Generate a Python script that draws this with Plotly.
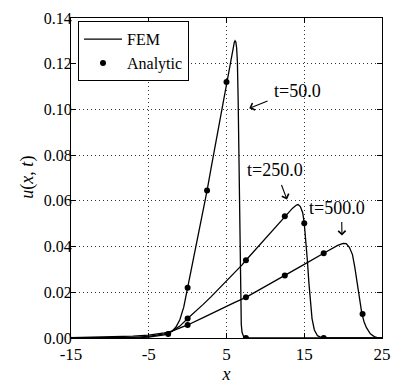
import plotly.graph_objects as go

# FEM solution curves
x50 = [-15, -10, -8, -6, -5, -4, -3, -2.5, -2, -1.5, -1, -0.5, 0, 0.5, 1, 1.5, 2, 2.5, 3, 3.5, 4, 4.5,
       5, 5.5, 5.8, 6.0, 6.1, 6.2, 6.3, 6.4, 6.5, 6.6, 6.7, 6.8, 6.9, 7.0, 7.2, 7.5, 25]
u50 = [0, 0, 0.00005, 0.0002, 0.0004, 0.0008, 0.0014, 0.0019, 0.0030, 0.0048, 0.0080, 0.0135, 0.0220,
       0.030, 0.038, 0.0465, 0.0555, 0.0645, 0.074, 0.0835, 0.093, 0.1025, 0.112, 0.1215, 0.1265,
       0.1293, 0.1300, 0.1295, 0.127, 0.121, 0.104, 0.075, 0.042, 0.016, 0.006, 0.0025, 0.0006, 0, 0]

x250 = [-15, -10, -7, -5, -4, -3, -2, -1, 0, 1, 2, 3, 4, 5, 6, 7, 7.5, 8, 9, 10, 11, 12, 12.5, 13,
        13.5, 14, 14.2, 14.5, 14.8, 15, 15.2, 15.4, 15.6, 15.8, 16.0, 16.3, 16.7, 17.2, 25]
u250 = [0.00002, 0.0001, 0.0003, 0.0007, 0.0011, 0.0018, 0.0030, 0.0052, 0.0085, 0.0115, 0.0147,
        0.0180, 0.0214, 0.0248, 0.0283, 0.0320, 0.0340, 0.0359, 0.0398, 0.0437, 0.0475, 0.0514,
        0.0533, 0.0552, 0.0568, 0.0582, 0.0584, 0.0575, 0.0548, 0.0502, 0.043, 0.034, 0.024, 0.015,
        0.0085, 0.0035, 0.001, 0.0002, 0]

x500 = [-15, -10, -7, -5, -3, -2, -1, 0, 2, 4, 6, 7.5, 10, 12.5, 15, 17.5, 18.5, 19.3, 20.0, 20.4,
        20.8, 21.2, 21.5, 21.8, 22.1, 22.4, 22.7, 23.0, 23.5, 24, 24.5, 25]
u500 = [0.0001, 0.0004, 0.0008, 0.0013, 0.0022, 0.0030, 0.0042, 0.0057, 0.0089, 0.0123, 0.0155,
        0.0178, 0.0225, 0.0273, 0.0322, 0.0371, 0.0390, 0.0405, 0.0414, 0.0413, 0.0397, 0.0365,
        0.031, 0.024, 0.017, 0.0109, 0.0070, 0.0045, 0.0018, 0.0006, 0.0001, 0]

# analytic samples
xa50 = [-2.5, 0, 2.5, 5, 7.5]
ua50 = [0.0018, 0.022, 0.0645, 0.112, 0]
xa250 = [0, 7.5, 12.5, 15, 17.5]
ua250 = [0.0085, 0.034, 0.0533, 0.0502, 0]
xa500 = [0, 7.5, 12.5, 17.5, 22.5]
ua500 = [0.0057, 0.0178, 0.0273, 0.0371, 0.0105]

# labels: text, text pos, arrow tail, arrow head
labels = ["t=50.0", "t=250.0", "t=500.0"]
label_xy = [(11.1, 0.108), (7.7, 0.0736), (15.65, 0.057)]
arrow_tail = [(10.47, 0.1039), (12.0, 0.0676), (19.82, 0.0514)]
arrow_head = [(7.93, 0.1005), (12.78, 0.0606), (19.85, 0.0448)]

xticks = [-15, -5, 5, 15, 25]
xticklabels = ["-15", "-5", "5", "15", "25"]
yticks = [0, 0.02, 0.04, 0.06, 0.08, 0.10, 0.12, 0.14]

font = "Liberation Serif"

fig = go.Figure()

for i, (x, u) in enumerate([(x50, u50), (x250, u250), (x500, u500)]):
    fig.add_trace(go.Scatter(x=x, y=u, mode="lines", name="FEM",
                             line=dict(color="black", width=1.3),
                             showlegend=(i == 0)))

for i, (x, u) in enumerate([(xa50, ua50), (xa250, ua250), (xa500, ua500)]):
    fig.add_trace(go.Scatter(x=x, y=u, mode="markers", name="Analytic",
                             marker=dict(color="black", size=6),
                             showlegend=(i == 0)))

for txt, (tx, ty) in zip(labels, label_xy):
    fig.add_annotation(x=tx, y=ty, text=txt, showarrow=False, xanchor="left", yanchor="middle",
                       xshift=-2, font=dict(family=font, size=18, color="black"))

for (ax, ay), (hx, hy) in zip(arrow_tail, arrow_head):
    fig.add_annotation(x=hx, y=hy, ax=ax, ay=ay, axref="x", ayref="y", text="",
                       showarrow=True, arrowhead=4, arrowsize=1.3, arrowwidth=1.1,
                       arrowcolor="black")

# y axis title placed by hand, left of the tick labels
fig.add_annotation(x=-0.183, y=0.503, xref="paper", yref="paper", showarrow=False,
                   text="<i>u</i>(<i>x</i>, <i>t</i>)", textangle=-90,
                   font=dict(family=font, size=18, color="black"))

axis_common = dict(
    showline=True, linecolor="black", linewidth=1.2, mirror="allticks",
    ticks="inside", ticklen=5, tickcolor="black", tickwidth=1,
    showgrid=True, gridcolor="#333333", gridwidth=1, griddash="1px,3px",
    zeroline=False, automargin=False,
)

fig.update_xaxes(range=[-15, 25], tickvals=xticks, ticktext=xticklabels,
                 ticklabelstandoff=0, tickfont=dict(family=font, size=17, color="black"),
                 title=dict(text="<i>x</i>", font=dict(family=font, size=18, color="black"),
                            standoff=4),
                 **axis_common)
fig.update_yaxes(range=[0, 0.14], tickvals=yticks, tickformat=".2f",
                 ticklabelstandoff=-5, tickfont=dict(family=font, size=16, color="black"),
                 **axis_common)

fig.update_layout(
    width=400, height=391,
    margin=dict(l=71, r=18, t=18, b=53),
    plot_bgcolor="white", paper_bgcolor="white",
    font=dict(family=font, color="black"),
    legend=dict(x=0.0225, y=0.99, xanchor="left", yanchor="top",
                bordercolor="black", borderwidth=1, bgcolor="white", itemwidth=38,
                font=dict(family=font, size=16), tracegroupgap=0),
)

fig.write_html("out.html", config={"displayModeBar": False},
               post_script="document.body.style.margin='0';")
